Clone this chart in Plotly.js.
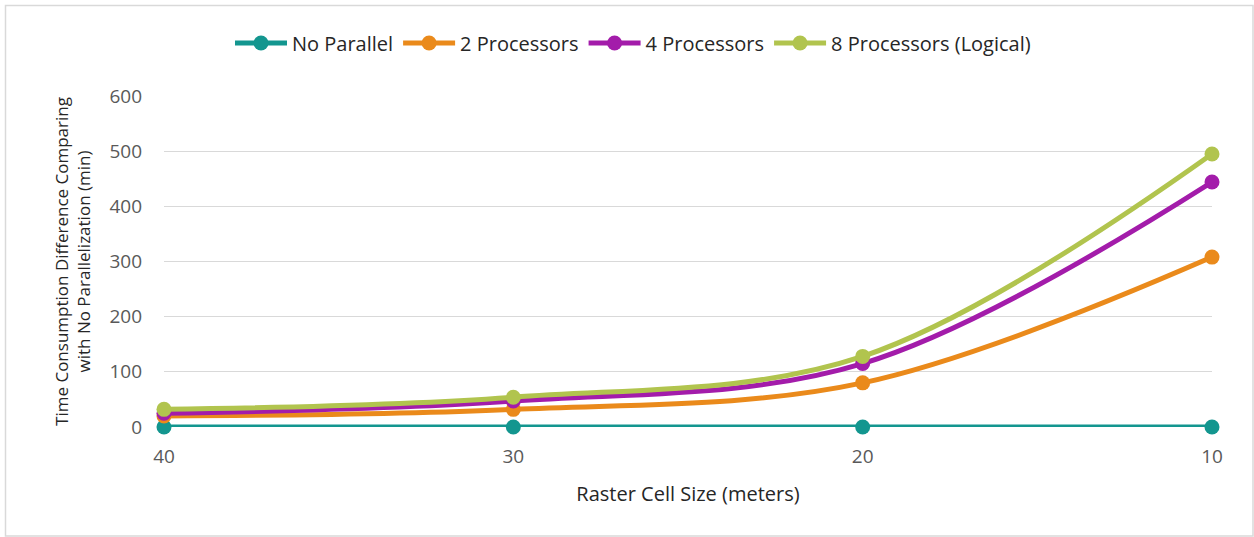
<!DOCTYPE html>
<html>
<head>
<meta charset="utf-8">
<script src="https://cdn.plot.ly/plotly-3.0.1.min.js"></script>
<style>html,body{margin:0;padding:0;background:#fff;}#chart{width:1254px;height:537px;}</style>
</head>
<body>
<div id="chart"></div>
<script>
const categories = ['40', '30', '20', '10'];
const noParallel = [0, 0, 0, 0];
const proc2 = [20, 32, 80, 308];
const proc4 = [25, 47, 115, 444];
const proc8 = [32, 54, 128, 495];
const seriesNames = ['No Parallel', '2 Processors', '4 Processors', '8 Processors (Logical)'];
const colors = ['#13968F', '#EA8A1B', '#A31CAA', '#B1C44E'];

const seriesData = [noParallel, proc2, proc4, proc8];
const traces = seriesData.map((vals, i) => ({
  x: categories,
  y: vals,
  name: seriesNames[i],
  type: 'scatter',
  mode: 'lines+markers',
  line: {color: colors[i], width: 5, shape: 'spline', smoothing: 1},
  marker: {color: colors[i], size: 15},
  cliponaxis: false
}));

const PH = 331, PW = 1048, L = 164, T = 96;
const layout = {
  width: 1254, height: 537,
  margin: {l: L, r: 1254 - L - PW, t: T, b: 537 - T - PH, autoexpand: false},
  paper_bgcolor: '#ffffff', plot_bgcolor: '#ffffff',
  font: {family: 'Open Sans, sans-serif', color: '#595959', size: 19},
  showlegend: true,
  legend: {
    orientation: 'h', x: (633 - L) / PW, xanchor: 'center', y: 1.16, yanchor: 'middle',
    font: {family: 'Open Sans, sans-serif', size: 20, color: '#262626'},
    itemwidth: 52, traceorder: 'normal'
  },
  xaxis: {
    type: 'category', range: [0, 3],
    showgrid: false, zeroline: false, showline: false,
    ticks: '', tickfont: {size: 19, color: '#595959'},
    ticklabelstandoff: 16,
    title: {text: 'Raster Cell Size (meters)', font: {size: 20, color: '#262626'}, standoff: 18}
  },
  yaxis: {
    range: [0, 600], dtick: 100, tick0: 0,
    showgrid: true, gridcolor: '#d9d9d9', gridwidth: 1,
    zeroline: false, showline: false, ticks: '',
    tickfont: {size: 19, color: '#595959'},
    ticklabelstandoff: 21,
    title: {text: 'Time Consumption Difference Comparing<br>with No Parallelization (min)', font: {size: 17, color: '#262626'}, standoff: 14}
  },
  shapes: [{
    type: 'rect', xref: 'paper', yref: 'paper', layer: 'below',
    x0: (5.5 - L) / PW, x1: (1253 - L) / PW,
    y0: (T + PH - 536) / PH, y1: (T + PH - 5.5) / PH,
    line: {color: '#d9d9d9', width: 1.5}, fillcolor: 'rgba(0,0,0,0)'
  }]
};

Plotly.newPlot('chart', traces, layout, {displayModeBar: false, staticPlot: true});
</script>
</body>
</html>
